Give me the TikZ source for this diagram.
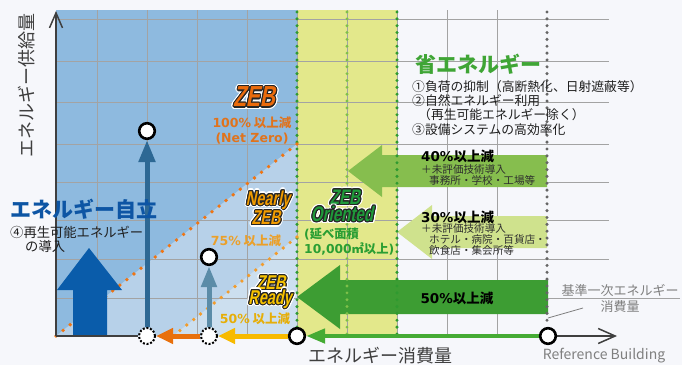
\documentclass[tikz,border=0pt]{standalone}
\usepackage{fontspec}
\usetikzlibrary{arrows.meta}
\setmainfont{Noto Sans CJK JP}
\newfontfamily\wide{DejaVu Sans}
\newfontfamily\zebf[FakeSlant=0.2,FakeStretch=0.72]{Liberation Sans}
\definecolor{bgc}{HTML}{F6F7FB}
\definecolor{blueA}{HTML}{8EBADF}
\definecolor{blueB}{HTML}{B7D1E9}
\definecolor{blueC}{HTML}{CCDFEF}
\definecolor{yell}{HTML}{E3E88B}
\definecolor{gridc}{HTML}{A3A3A3}
\definecolor{greenDot}{HTML}{2F9A30}
\definecolor{greenDotL}{HTML}{7FC04A}
\definecolor{grayDot}{HTML}{666666}
\definecolor{orDot}{HTML}{EF7514}
\definecolor{orDotL}{HTML}{F29C2C}
\definecolor{arrA}{HTML}{86BE4E}
\definecolor{arrB}{HTML}{CFE28D}
\definecolor{arrC}{HTML}{3D9D33}
\definecolor{bigblue}{HTML}{0A5CAA}
\definecolor{steelA}{HTML}{2D6894}
\definecolor{steelB}{HTML}{5B8CA8}
\definecolor{orArr}{HTML}{E8700C}
\definecolor{yeArr}{HTML}{F7BA00}
\definecolor{grArr}{HTML}{45AB34}
\definecolor{axisc}{HTML}{3F3F3F}
\definecolor{txtgreen}{HTML}{3FA535}
\definecolor{zebO}{HTML}{EA6B0C}
\definecolor{zebN}{HTML}{F29C00}
\definecolor{zebR}{HTML}{F7C200}
\definecolor{zebG}{HTML}{1F9A3A}
\definecolor{pctO}{HTML}{E0731C}
\definecolor{pctN}{HTML}{EBA02A}
\definecolor{pctR}{HTML}{E6AE08}
\definecolor{ori}{HTML}{2A9E33}
\definecolor{autonomy}{HTML}{0D55A4}
\definecolor{graytxt}{HTML}{7F7F7F}
\newcommand{\ringcopies}[3]{%
  \foreach \ang in {0,22.5,...,337.5}{%
    \pgfmathsetlengthmacro{\ddx}{#2*cos(\ang)}%
    \pgfmathsetlengthmacro{\ddy}{#2*sin(\ang)}%
    \rlap{\hspace*{\ddx}\raisebox{\ddy}{\textcolor{#1}{#3}}}}}
\newcommand{\halo}[2]{\ringcopies{white}{2.4pt}{#2}\ringcopies{black!85}{1.1pt}{#2}\textcolor{#1}{#2}}
\pgfdeclarelayer{bg}
\pgfdeclarelayer{conn}
\pgfsetlayers{bg,conn,main}
\begin{document}
\begin{tikzpicture}[x=1pt,y=-1pt,
  grid/.style={draw=gridc, line width=0.9pt},
  circ/.style={circle, draw=black, line width=2.6pt, fill=white, minimum size=15.6pt, inner sep=0pt},
  dcirc/.style={circle, draw=black, line width=2pt, dash pattern=on 2pt off 1.7pt, fill=white, minimum size=16pt, inner sep=0pt},
  lbl/.style={inner sep=0pt},
  axisline/.style={draw=axisc, line width=1.5pt},
  zebbig/.style={lbl, font=\zebf\bfseries\fontsize{29}{29}\selectfont},
  zebmid/.style={lbl, font=\zebf\bfseries\fontsize{20}{20}\selectfont},
  zebori/.style={lbl, font=\zebf\bfseries\fontsize{21}{21}\selectfont},
  pct/.style={lbl, font=\bfseries\fontsize{12.5}{12.5}\selectfont},
  pctbig/.style={lbl, font=\bfseries\fontsize{13.5}{13.5}\selectfont, text=black},
  sub/.style={lbl, anchor=west, align=left, text=black!82},
]
\useasboundingbox (0,0) rectangle (682,365);
\begin{pgfonlayer}{bg}
\fill[bgc] (0,0) rectangle (682,365);
\fill[blueA] (56,10) rectangle (297,336);
\fill[blueB] (56,336) -- (297,144) -- (297,336) -- cycle;
\fill[blueC] (173,336) -- (297,237) -- (297,336) -- cycle;
\fill[yell] (297,10) rectangle (397,336);
\foreach \x in {97,147,197,247,297,347,397,447,497} \draw[grid] (\x,10) -- (\x,336);
\foreach \y in {19,61,102,144,182,220,259,298} \draw[grid] (56,\y) -- (609,\y);
\draw[grid] (548,298) -- (680,298);
% block arrows
\fill[arrA] (547,155) -- (382,155) -- (382,145) -- (348,171) -- (382,197) -- (382,187) -- (547,187) -- cycle;
\fill[arrB] (547,216) -- (432,216) -- (432,205) -- (397,232) -- (432,259) -- (432,248) -- (547,248) -- cycle;
\fill[arrC] (548,280) -- (340,280) -- (340,265) -- (297,297) -- (340,329) -- (340,314) -- (548,314) -- cycle;
% dotted lines (dots)
\foreach \i in {0,...,47} {
  \fill[greenDot] (297,{12+\i*6.85}) circle (1.7);
  \fill[greenDotL] (347,{12+\i*6.85}) circle (1.6);
  \fill[greenDot] (397,{12+\i*6.85}) circle (1.7);
}
\foreach \i in {0,...,45} \fill[grayDot] (547,{12+\i*6.85}) circle (1.7);
\foreach \i in {0,...,34} \fill[orDot] ({56+\i*241/34},{336-\i*192/34}) circle (1.9);
\foreach \i in {0,...,18} \fill[orDotL] ({173+\i*124/18},{336-\i*99/18}) circle (1.85);
% big blue arrow
\fill[bigblue] (73,336) -- (73,290) -- (57,290) -- (89,248) -- (122,290) -- (107,290) -- (107,336) -- cycle;
\end{pgfonlayer}

% nodes
\coordinate (O) at (56,336);
\coordinate (ytop) at (56,11);
\coordinate (xend) at (617,336);
\coordinate (ld1) at (548,318);
\coordinate (ld2) at (583,308);
\node[circ] (c1) at (147,131) {};
\node[circ] (c2) at (209,257) {};
\node[circ] (c3) at (297,336) {};
\node[circ] (c4) at (548,336) {};
\node[dcirc] (d1) at (147,336) {};
\node[dcirc] (d2) at (209,336) {};

\begin{pgfonlayer}{conn}
\draw[axisline, -{Straight Barb[length=15pt,width=13pt]}] (O) -- (ytop);
\draw[axisline] (O) -- (d1);
\draw[axisline, -{Straight Barb[length=17pt,width=15pt]}] (c4) -- (xend);
\draw[steelA, line width=5pt, -{Triangle[length=22pt,width=16pt]}] (d1) -- (c1);
\draw[steelB, line width=5pt, -{Triangle[length=21pt,width=15pt]}] (d2) -- (c2);
\draw[orArr, line width=5pt, -{Triangle[length=17pt,width=15pt]}] (d2) -- (d1);
\draw[yeArr, line width=5pt, -{Triangle[length=17pt,width=15pt]}] (c3) -- (d2);
\draw[grArr, line width=4.5pt, -{Triangle[length=19pt,width=14pt]}] (c4) -- (c3);
\draw[draw=graytxt, line width=0.8pt] (ld1) -- (ld2);
\end{pgfonlayer}

% texts
\node[lbl, anchor=west, font=\bfseries\fontsize{21}{21}\selectfont, text=txtgreen] (shoene) at (415,64) {省エネルギー};
\node[lbl, anchor=west, align=left, font=\fontsize{12.8}{14.3}\selectfont, text=black!88] (list) at (412,107.7) {①負荷の抑制（高断熱化、日射遮蔽等）\\②自然エネルギー利用\\\hspace*{6pt}（再生可能エネルギー除く）\\③設備システムの高効率化};
\node[pctbig, anchor=west] (p40) at (421,156) {{\wide 40\%}以上減};
\node[sub, font=\fontsize{10.6}{11.8}\selectfont] (s40) at (421,175) {＋未評価技術導入\\\hspace*{8pt}事務所・学校・工場等};
\node[pctbig, anchor=west] (p30) at (421,217) {{\wide 30\%}以上減};
\node[sub, font=\fontsize{10.6}{10.8}\selectfont] (s30) at (421,239.5) {＋未評価技術導入\\\hspace*{8pt}ホテル・病院・百貨店・\\\hspace*{8pt}飲食店・集会所等};
\node[pctbig] (p50) at (457,298) {{\wide 50\%}以上減};

\node[lbl, anchor=west, font=\bfseries\fontsize{21}{21}\selectfont, text=autonomy] (jiritsu) at (10,209) {エネルギー自立};
\node[lbl, anchor=west, align=left, font=\fontsize{13.3}{14}\selectfont, text=black!88] (renew) at (10,239) {④再生可能エネルギー\\\hspace*{15pt}の導入};

\node[lbl, rotate=90, font=\fontsize{18}{18}\selectfont, text=axisc] (ylab) at (27,85) {エネルギー供給量};
\node[lbl, font=\fontsize{18}{18}\selectfont, text=axisc] (xlab) at (380,355.5) {エネルギー消費量};
\node[lbl, font=\fontsize{14}{14}\selectfont, text=graytxt] (refb) at (604,356) {Reference Building};
\node[lbl, align=center, font=\fontsize{13}{16.5}\selectfont, text=graytxt] (kijun) at (620,298.5) {基準一次エネルギー\\消費量};

\node[zebbig] (zeb) at (254,97) {\halo{zebO}{ZEB}};
\node[pct, text=pctO] (z100) at (252,123) {{\wide 100\%} 以上減};
\node[pct, text=pctO] (znet) at (252,139) {\wide (Net Zero)};
\node[zebmid] (nearly) at (268,200) {\halo{zebN}{Nearly}};
\node[zebmid] (nzeb) at (266,218) {\halo{zebN}{ZEB}};
\node[pct, text=pctN] (z75) at (246,241) {{\wide 75\%} 以上減};
\node[zebmid] (rzeb) at (271,283) {\halo{zebR}{ZEB}};
\node[zebmid] (ready) at (270,299) {\halo{zebR}{Ready}};
\node[pct, text=pctR] (z50) at (255,319) {{\wide 50\%} 以上減};
\node[zebori] (ozeb) at (345,197) {\halo{zebG}{ZEB}};
\node[zebori] (orient) at (342,214) {\halo{zebG}{Oriented}};
\node[lbl, anchor=west, align=left, font=\bfseries\fontsize{12.3}{15}\selectfont, text=ori] (area) at (304,241.5) {{\wide(}延べ面積\\{\wide 10,000}㎡以上{\wide)}};
\end{tikzpicture}
\end{document}
